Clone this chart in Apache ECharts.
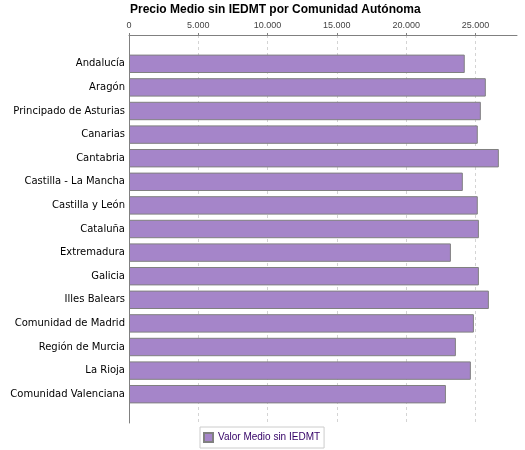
<!DOCTYPE html>
<html>
<head>
<meta charset="utf-8">
<script src="https://cdn.jsdelivr.net/npm/echarts@6/dist/echarts.min.js"></script>
<style>
  html, body { margin: 0; padding: 0; background: #fff; }
  #main { width: 525px; height: 450px; }
</style>
</head>
<body>
<div id="main"></div>
<script>
// datos
const comunidades = ['Andalucía', 'Aragón', 'Principado de Asturias', 'Canarias', 'Cantabria',
  'Castilla - La Mancha', 'Castilla y León', 'Cataluña', 'Extremadura', 'Galicia',
  'Illes Balears', 'Comunidad de Madrid', 'Región de Murcia', 'La Rioja', 'Comunidad Valenciana']
const valorMedio = [24230, 25750, 25390, 25170, 26690, 24090, 25170, 25250, 23230, 25250,
  25970, 24890, 23590, 24670, 22870]
const serieNombre = 'Valor Medio sin IEDMT'
const ejeMax = 28000
const ejePaso = 5000

const chart = echarts.init(document.getElementById('main'))

const fmtMiles = v => String(v).replace(/\B(?=(\d{3})+(?!\d))/g, '.')

chart.setOption({
  animation: false,
  title: {
    text: 'Precio Medio sin IEDMT por Comunidad Autónoma',
    left: 125, top: -1,
    textStyle: { fontFamily: 'Liberation Sans', fontWeight: 'bold', fontSize: 12, color: '#000' }
  },
  legend: {
    data: [serieNombre],
    left: 200, top: 427,
    icon: 'rect', itemWidth: 9, itemHeight: 9, itemGap: 5,
    padding: [5, 4, 5, 3],
    borderColor: '#cccccc', borderWidth: 1,
    textStyle: { fontFamily: 'Liberation Sans', fontSize: 10, color: '#330066', lineHeight: 11 }
  },
  grid: [
    // grid 0: ejes con margen (como JFreeChart)
    { left: 129, right: 8, top: 35, height: 388 },
    // grid 1: barras
    { left: 129, right: 8, top: 52, height: 354 }
  ],
  xAxis: [
    {
      gridIndex: 0, type: 'value', position: 'top',
      min: 0, max: ejeMax, interval: ejePaso,
      axisLine: { show: true, onZero: false, lineStyle: { color: '#808080' } },
      axisTick: { show: true, length: 2, lineStyle: { color: '#808080' } },
      axisLabel: {
        margin: 5, showMaxLabel: false,
        fontFamily: 'Liberation Sans', fontSize: 9, color: '#444',
        formatter: fmtMiles
      },
      splitLine: {
        show: true, showMinLine: false, showMaxLine: false,
        lineStyle: { color: '#d4d4d4', type: [3, 3] }
      }
    },
    {
      gridIndex: 1, type: 'value', min: 0, max: ejeMax, show: false
    }
  ],
  yAxis: [
    {
      gridIndex: 0, type: 'value', min: 0, max: 1,
      axisLine: { show: true, onZero: false, lineStyle: { color: '#808080' } },
      axisTick: { show: false }, axisLabel: { show: false }, splitLine: { show: false }
    },
    {
      gridIndex: 1, type: 'category', inverse: true, data: comunidades,
      axisLine: { show: false }, axisTick: { show: false },
      axisLabel: { margin: 4, fontFamily: 'DejaVu Sans', fontSize: 10, color: '#000' }
    }
  ],
  series: [{
    name: serieNombre,
    type: 'bar',
    xAxisIndex: 1, yAxisIndex: 1,
    data: valorMedio,
    barCategoryGap: '22%',
    itemStyle: { color: '#a585c9', borderColor: '#808080', borderWidth: 1 }
  }]
})
</script>
</body>
</html>
